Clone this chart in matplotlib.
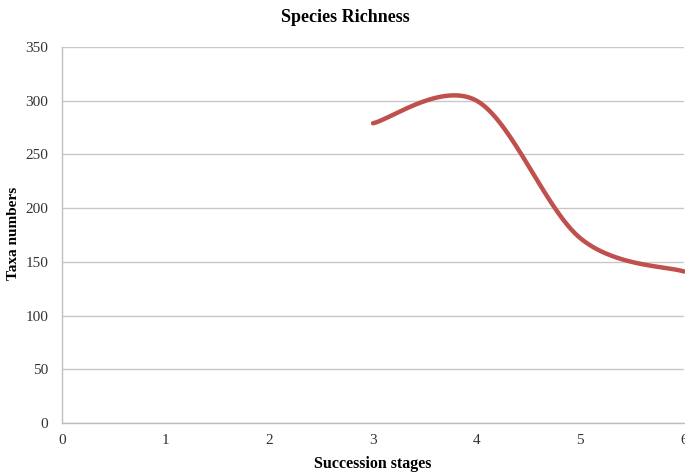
import numpy as np
import matplotlib
matplotlib.use("Agg")
import matplotlib.pyplot as plt

# Taxa counts per succession stage
stages = [3, 4, 5, 6]
taxa = [279, 300, 172, 141]

x_ticks = [0, 1, 2, 3, 4, 5, 6]
y_ticks = [0, 50, 100, 150, 200, 250, 300, 350]


def smooth_curve(xs, ys, n=60):
    """Cubic Bezier smoothing through the points (spreadsheet style)."""
    pts = np.column_stack([xs, ys]).astype(float)
    padded = np.vstack([pts[0], pts, pts[-1]])
    out = []
    for i in range(len(pts) - 1):
        p0, p1 = pts[i], pts[i + 1]
        c1 = p0 + (padded[i + 2] - padded[i]) / 6.0
        c2 = p1 - (padded[i + 3] - padded[i + 1]) / 6.0
        t = np.linspace(0, 1, n)[:, None]
        seg = ((1 - t) ** 3) * p0 + 3 * ((1 - t) ** 2) * t * c1 \
            + 3 * (1 - t) * t ** 2 * c2 + t ** 3 * p1
        out.append(seg if i == 0 else seg[1:])
    curve = np.vstack(out)
    return curve[:, 0], curve[:, 1]


plt.rcParams["font.family"] = ["Liberation Serif", "DejaVu Serif"]

fig = plt.figure(figsize=(6.85, 4.74), dpi=100)
ax = fig.add_axes([62 / 685, 1 - 423 / 474, 622 / 685, 376 / 474])

sx, sy = smooth_curve(stages, taxa)
ax.plot(sx, sy, color="#C0504D", linewidth=3.2, solid_capstyle="round", clip_on=False)

ax.set_xlim(0, 6)
ax.set_ylim(0, 350)
ax.set_xticks(x_ticks)
ax.set_yticks(y_ticks)
ax.tick_params(length=0, labelsize=11, colors="#333333")
ax.tick_params(axis="y", pad=10)
ax.tick_params(axis="x", pad=8)
ax.yaxis.grid(True, color="#C8C8C8", linewidth=1.0)
ax.set_axisbelow(True)

for side in ("top", "right"):
    ax.spines[side].set_visible(False)
for side in ("left", "bottom"):
    ax.spines[side].set_color("#BEBEBE")
    ax.spines[side].set_linewidth(1.0)

fig.text(345 / 685, 1 - 18 / 474, "Species Richness", ha="center", va="center",
         fontsize=13, fontweight="bold")
fig.text(373 / 685, 1 - 464 / 474, "Succession stages", ha="center", va="center",
         fontsize=11.5, fontweight="bold")
fig.text(14 / 685, 1 - 233 / 474, "Taxa numbers", ha="center", va="center",
         rotation=90, fontsize=11, fontweight="bold")

fig.savefig("out.png", dpi=100)
